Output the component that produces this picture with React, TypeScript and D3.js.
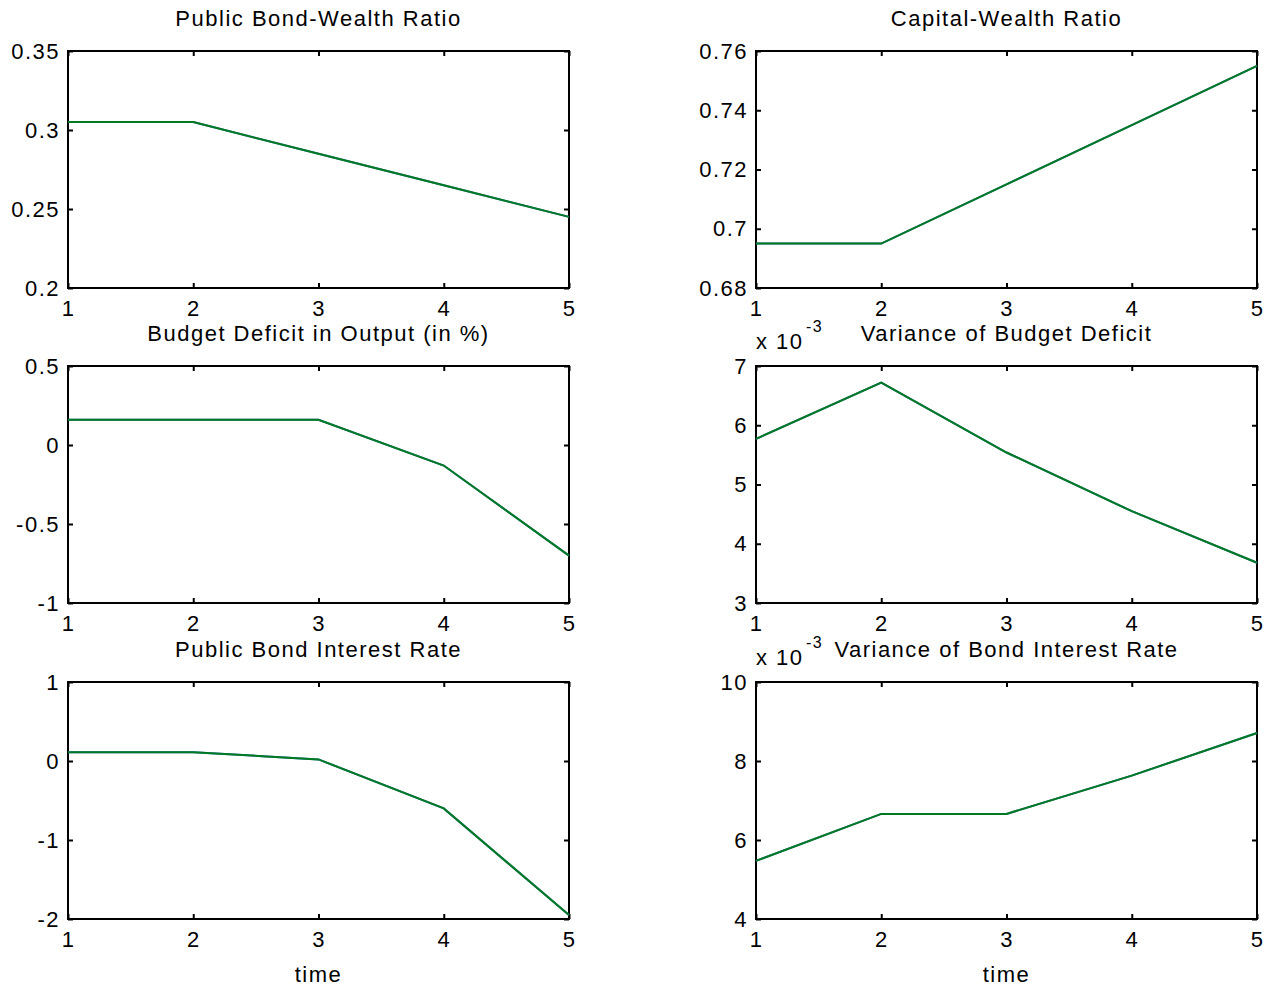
import React, { useRef, useEffect } from 'react'
import { select, scaleLinear, axisBottom, axisLeft, axisTop, axisRight, line } from 'd3'

const timeSteps = [1, 2, 3, 4, 5]

const bondWealth = [0.305, 0.305, 0.285, 0.265, 0.245]
const capitalWealth = [0.695, 0.695, 0.715, 0.735, 0.755]
const budgetDeficit = [0.16, 0.16, 0.16, -0.13, -0.7]
const varBudgetDeficit = [5.77, 6.72, 5.54, 4.55, 3.68] // x 10^-3
const bondRate = [0.11, 0.11, 0.02, -0.6, -1.95]
const varBondRate = [5.47, 6.66, 6.66, 7.63, 8.71] // x 10^-3

const bondWealthTicks = [0.2, 0.25, 0.3, 0.35]
const capitalWealthTicks = [0.68, 0.7, 0.72, 0.74, 0.76]
const budgetDeficitTicks = [-1, -0.5, 0, 0.5]
const varBudgetTicks = [3, 4, 5, 6, 7]
const bondRateTicks = [-2, -1, 0, 1]
const varBondRateTicks = [4, 6, 8, 10]

const FONT = "'Liberation Sans', Arial, Helvetica, sans-serif"
const W = 501
const H = 237

function Panel({ x, y, title, values, ticks, scaled, xlabel }) {
    const gRef = useRef()

    useEffect(() => {
        const g = select(gRef.current)
        g.selectAll('*').remove()

        const xScale = scaleLinear().domain([1, 5]).range([0, W])
        const yScale = scaleLinear()
            .domain([ticks[0], ticks[ticks.length - 1]])
            .range([H, 0])

        const styleAxis = (sel) => {
            sel.select('.domain').remove()
            sel.selectAll('line').attr('stroke', '#000').attr('stroke-width', 2)
            sel.selectAll('text')
                .attr('fill', '#000')
                .style('font-family', FONT)
                .style('font-size', '22px')
                .style('letter-spacing', '1.5px')
        }

        g.append('g')
            .attr('transform', `translate(0,${H})`)
            .call(axisBottom(xScale).tickValues(timeSteps).tickFormat(d => d).tickSizeInner(-5).tickSizeOuter(0).tickPadding(12))
            .call(styleAxis)
        g.append('g')
            .call(axisTop(xScale).tickValues(timeSteps).tickFormat('').tickSizeInner(-5).tickSizeOuter(0))
            .call(styleAxis)
        g.append('g')
            .call(axisLeft(yScale).tickValues(ticks).tickFormat(d => String(d)).tickSizeInner(-5).tickSizeOuter(0).tickPadding(8))
            .call(styleAxis)
        g.append('g')
            .attr('transform', `translate(${W},0)`)
            .call(axisRight(yScale).tickValues(ticks).tickFormat('').tickSizeInner(-5).tickSizeOuter(0))
            .call(styleAxis)

        g.append('rect')
            .attr('width', W)
            .attr('height', H)
            .attr('fill', 'none')
            .attr('stroke', '#000')
            .attr('stroke-width', 2)

        const path = line()
            .x((d, i) => xScale(timeSteps[i]))
            .y(d => yScale(d))

        // blue series sits underneath, green drawn on top
        g.append('path')
            .datum(values)
            .attr('d', path)
            .attr('fill', 'none')
            .attr('stroke', '#3a6fc0')
            .attr('stroke-width', 2)
        g.append('path')
            .datum(values)
            .attr('d', path)
            .attr('fill', 'none')
            .attr('stroke', '#007a22')
            .attr('stroke-width', 2)

        const txt = (sel) => sel
            .attr('fill', '#000')
            .style('font-family', FONT)
            .style('letter-spacing', '1.5px')

        g.append('text')
            .attr('x', W / 2)
            .attr('y', -25)
            .attr('text-anchor', 'middle')
            .style('font-size', '22px')
            .text(title)
            .call(txt)

        if (scaled) {
            g.append('text')
                .attr('x', 0)
                .attr('y', -17)
                .style('font-size', '22px')
                .text('x 10')
                .call(txt)
            g.append('text')
                .attr('x', 50)
                .attr('y', -34)
                .style('font-size', '16px')
                .text('-3')
                .call(txt)
        }

        if (xlabel) {
            g.append('text')
                .attr('x', W / 2)
                .attr('y', H + 63)
                .attr('text-anchor', 'middle')
                .style('font-size', '22px')
                .text(xlabel)
                .call(txt)
        }
    }, [title, values, ticks, scaled, xlabel])

    return <g ref={gRef} transform={`translate(${x},${y})`} />
}

export default function App() {
    return (
        <svg width={1282} height={990} style={{ position: 'absolute', left: 0, top: 0, background: '#fff' }}>
            <Panel x={68} y={51} title="Public Bond-Wealth Ratio" values={bondWealth} ticks={bondWealthTicks} />
            <Panel x={756} y={51} title="Capital-Wealth Ratio" values={capitalWealth} ticks={capitalWealthTicks} />
            <Panel x={68} y={366} title="Budget Deficit in Output (in %)" values={budgetDeficit} ticks={budgetDeficitTicks} />
            <Panel x={756} y={366} title="Variance of Budget Deficit" values={varBudgetDeficit} ticks={varBudgetTicks} scaled />
            <Panel x={68} y={682} title="Public Bond Interest Rate" values={bondRate} ticks={bondRateTicks} xlabel="time" />
            <Panel x={756} y={682} title="Variance of Bond Interest Rate" values={varBondRate} ticks={varBondRateTicks} scaled xlabel="time" />
        </svg>
    )
}
